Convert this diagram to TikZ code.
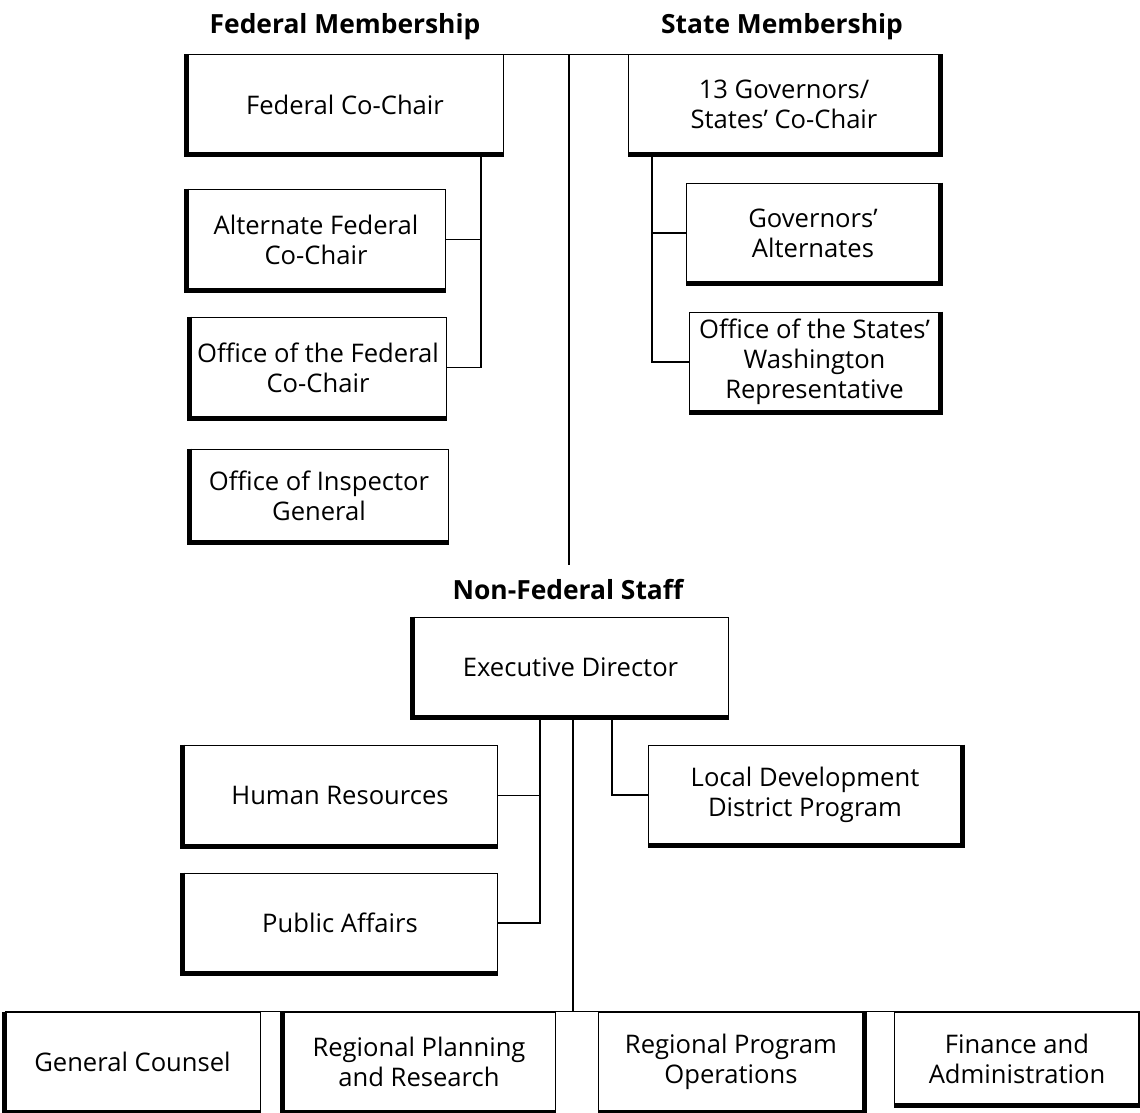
\documentclass[tikz,border=0pt]{standalone}
\usepackage{fontspec}
\setmainfont{Open Sans}
\begin{document}
\begin{tikzpicture}[x=0.5pt,y=-0.5pt,
  box/.style={draw,line width=0.5pt,inner sep=0pt,align=center,font=\fontsize{12.8}{15}\selectfont},
  sz/.style 2 args={minimum width=#1*0.5pt,minimum height=#2*0.5pt},
  head/.style={font=\fontsize{13.2}{15}\selectfont\bfseries},
  shade/.style={line width=2.5pt},
  link/.style={line width=0.6pt}]
\useasboundingbox (0,0) rectangle (1140,1113);
\node[head] (fedhead) at (345,27) {Federal Membership};
\node[head] (statehead) at (782,27) {State Membership};
\node[head] (staffhead) at (568,590) {Non-Federal Staff};
\node[box,sz={316}{99}] (fcc) at (345,104.5) {Federal Co-Chair};
\node[box,sz={312}{99}] (scc) at (784,104.5) {13 Governors/\\States’ Co-Chair};
\node[box,sz={258}{101}] (afc) at (316,239.5) {Alternate Federal\\Co-Chair};
\node[box,sz={256}{101}] (ofc) at (318,367.5) {Office of the Federal\\Co-Chair};
\node[box,sz={258}{93}] (oig) at (319,495.5) {Office of Inspector\\General};
\node[box,sz={254}{100}] (gva) at (813,233) {Governors’\\Alternates};
\node[box,sz={251}{100}] (osw) at (814.5,362) {Office of the States’\\Washington\\Representative};
\node[box,sz={315}{100}] (ed) at (570.5,667) {Executive Director};
\node[box,sz={314}{101}] (hr) at (340,795.5) {Human Resources};
\node[box,sz={314}{100}] (pa) at (340,923) {Public Affairs};
\node[box,sz={314}{100}] (ldd) at (805,795) {Local Development\\District Program};
\node[box,sz={255}{100}] (gc) at (132.5,1062) {General Counsel};
\node[box,sz={272}{100}] (rpr) at (419,1062) {Regional Planning\\and Research};
\node[box,sz={266}{100}] (rpo) at (731,1062) {Regional Program\\Operations};
\node[box,sz={246}{93}] (fa) at (1017,1058.5) {Finance and\\Administration};
\foreach \n in {fcc,afc,ofc,oig,ed,hr,pa,gc,rpr}
  \draw[shade] (\n.north west) |- (\n.south east);
\foreach \n in {scc,gva,osw,ldd,rpo,fa}
  \draw[shade] (\n.north east) |- (\n.south west);
\coordinate (top) at (569,55);
\coordinate (topend) at (569,565);
\coordinate (fedbus) at (481,154);
\coordinate (statebus) at (652,154);
\coordinate (hrbus) at (540,717);
\coordinate (midbus) at (573,717);
\coordinate (lddbus) at (612,717);
\draw[link] (fcc.north east) -- (scc.north west);
\draw[link] (top) -- (topend);
\draw[link] (fedbus) |- (ofc.east);
\draw[link] (afc.east) -- (afc.east -| fedbus);
\draw[link] (statebus) |- (osw.west);
\draw[link] (gva.west) -- (gva.west -| statebus);
\draw[link] (hrbus) |- (pa.east);
\draw[link] (hr.east) -- (hr.east -| hrbus);
\draw[link] (lddbus) |- (ldd.west);
\draw[link] (midbus) -- (midbus |- gc.north);
\draw[link] (gc.north west) -- (fa.north east);
\end{tikzpicture}
\end{document}
